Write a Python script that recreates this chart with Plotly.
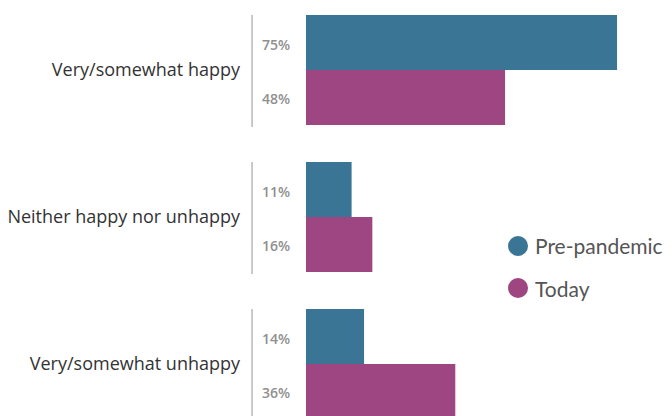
import plotly.graph_objects as go

categories = ["Very/somewhat happy", "Neither happy nor unhappy", "Very/somewhat unhappy"]
series_names = ["Pre-pandemic", "Today"]
pre_pandemic = [75, 11, 14]
today = [48, 16, 36]
colors = ["#3B7596", "#9D4682"]

fig = go.Figure()
for name, vals, col in zip(series_names, [pre_pandemic, today], colors):
    fig.add_trace(go.Bar(
        y=categories, x=vals, orientation="h", name=name,
        marker=dict(color=col, line=dict(width=0)),
        showlegend=False, hoverinfo="skip",
    ))

# percentage labels and separator lines
for i, cat in enumerate(categories):
    for vals, shift in [(pre_pandemic, 26), (today, -28)]:
        fig.add_annotation(
            x=-7.35, y=i, xref="x", yref="y", yshift=shift,
            text=f"{vals[i]}%", showarrow=False, xanchor="center",
            font=dict(family="Open Sans", size=14, color="#8f8f8f", weight=600),
        )
    fig.add_shape(
        type="line", xref="x", yref="y", x0=-13.0, x1=-13.0,
        y0=i - 0.374, y1=i + 0.388,
        line=dict(color="#b8b8b8", width=1.5),
    )

# legend (round markers)
legend_y = [0.4279, 0.3269]
for name, col, ly in zip(series_names, colors, legend_y):
    fig.add_shape(
        type="circle", xref="paper", yref="paper",
        xsizemode="pixel", ysizemode="pixel",
        xanchor=0.6233, yanchor=ly, x0=-10, x1=10, y0=-10, y1=10,
        fillcolor=col, line=dict(width=0),
    )
    fig.add_annotation(
        x=0.658, y=ly, xref="paper", yref="paper", text=name,
        showarrow=False, xanchor="left", yanchor="middle",
        font=dict(family="Lato", size=21, color="#555555"),
    )

fig.update_layout(
    width=672, height=416,
    margin=dict(l=242, r=0, t=0, b=0),
    paper_bgcolor="white", plot_bgcolor="white",
    barmode="group", bargap=0.252, bargroupgap=0,
    xaxis=dict(range=[-13.5, 90.18], visible=False, fixedrange=True),
    yaxis=dict(
        type="category", range=[2.408, -0.422], showgrid=False, zeroline=False,
        showline=False, ticks="", ticklabelstandoff=9,
        tickfont=dict(family="Open Sans", size=18, color="#333333"),
    ),
    showlegend=False,
)

fig.write_html("out.html")
